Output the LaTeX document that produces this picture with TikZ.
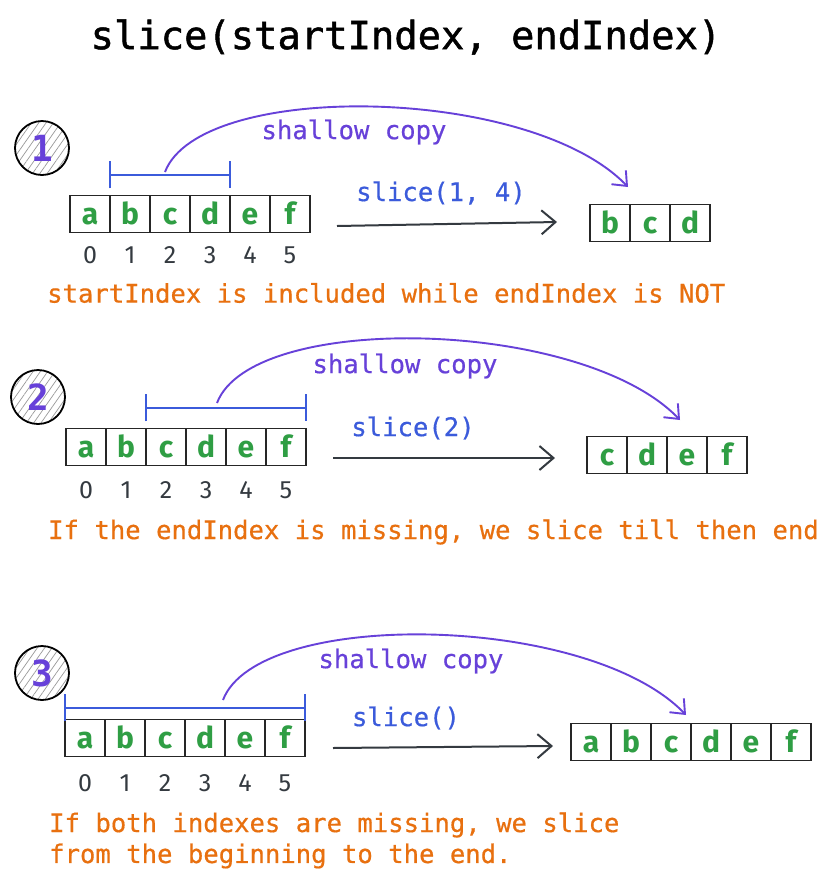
\documentclass[tikz,border=0pt]{standalone}
\usepackage{fontspec}
\setmainfont{Fira Sans}
\setmonofont{DejaVu Sans Mono}
\newfontfamily\monoheavy{DejaVu Sans Mono}[FakeBold=1.2]
\newfontfamily\monosemi{DejaVu Sans Mono}[FakeBold=0.5]
\usetikzlibrary{arrows.meta,patterns.meta}

\definecolor{violetink}{HTML}{6741D9}
\definecolor{blueink}{HTML}{3B5BDB}
\definecolor{greenink}{HTML}{2F9E44}
\definecolor{orangeink}{HTML}{E8700F}
\definecolor{darkink}{HTML}{343A40}

\tikzset{
  cell/.style={draw=black!85, line width=1.1pt, minimum width=40pt, minimum height=37pt,
    inner sep=0pt, text=greenink, font=\bfseries\fontsize{30}{30}\selectfont,
    text height=20pt, text depth=0pt},
  idx/.style={text=darkink, font=\fontsize{25}{25}\selectfont},
  badge/.style={circle, draw=black, line width=1.8pt, minimum size=54pt, inner sep=0pt,
    pattern={Lines[angle=55,distance=6pt,line width=0.7pt]}, pattern color=gray!80,
    text=violetink, font=\ttfamily\bfseries\fontsize{36}{36}\selectfont},
  span/.style={draw=blueink, line width=1.8pt, {Bar[width=27pt]}-{Bar[width=27pt]}},
  copyarc/.style={draw=violetink, line width=1.9pt, -{Straight Barb[length=12pt,width=20pt]}},
  slicearrow/.style={draw=darkink, line width=2pt, -{Straight Barb[length=14pt,width=24pt]}},
  copylabel/.style={text=violetink, font=\monosemi\fontsize{25.6}{25.6}\selectfont},
  slicelabel/.style={text=blueink, font=\monosemi\fontsize{25.6}{25.6}\selectfont},
  note/.style={text=orangeink, anchor=west, inner sep=0pt, font=\monosemi\fontsize{25.6}{25.6}\selectfont},
}

\begin{document}
\begin{tikzpicture}[x=1pt, y=-1pt]

  \useasboundingbox[fill=white] (0,0) rectangle (828,879);

  \node[font=\monoheavy\fontsize{38.8}{38.8}\selectfont] (title) at (406,37) {slice(startIndex, endIndex)};

  % slice(1, 4)
  \node[badge] (one) at (42,148) {1};
  \foreach \ch [count=\i from 0] in {a,b,c,d,e,f} {
    \node[cell] (p1\ch) at ({90+40*\i},214) {\ch};
    \node[idx] (n1\ch) at ({90+40*\i},255) {\i};
  }
  \draw[span] ([yshift=20pt]p1b.north west) -- ([yshift=20pt]p1d.north east);
  \coordinate (from1) at (165,172);
  \coordinate (to1) at (628,187);
  \draw[copyarc] (from1) .. controls (200,80) and (530,85) .. (to1);
  \node[copylabel] (copy1) at (354,132) {shallow copy};
  \coordinate (go1) at (337,226);
  \coordinate (stop1) at (557,222);
  \draw[slicearrow] (go1) -- (stop1);
  \node[slicelabel] (call1) at (441,193) {slice(1, 4)};
  \foreach \ch [count=\i from 0] in {b,c,d}
    \node[cell] (q1\ch) at ({610+40*\i},223) {\ch};
  \node[note] (note1) at (47,293) {startIndex is included while endIndex is NOT};

  % slice(2)
  \node[badge] (two) at (38,397) {2};
  \foreach \ch [count=\i from 0] in {a,b,c,d,e,f} {
    \node[cell] (p2\ch) at ({86+40*\i},447) {\ch};
    \node[idx] (n2\ch) at ({86+40*\i},490) {\i};
  }
  \draw[span] ([yshift=20pt]p2c.north west) -- ([yshift=20pt]p2f.north east);
  \coordinate (from2) at (217,403);
  \coordinate (to2) at (680,420);
  \draw[copyarc] (from2) .. controls (252,311) and (582,318) .. (to2);
  \node[copylabel] (copy2) at (405,366) {shallow copy};
  \coordinate (go2) at (333,458);
  \coordinate (stop2) at (555,458);
  \draw[slicearrow] (go2) -- (stop2);
  \node[slicelabel] (call2) at (413,428) {slice(2)};
  \foreach \ch [count=\i from 0] in {c,d,e,f}
    \node[cell] (q2\ch) at ({607+40*\i},455) {\ch};
  \node[note] (note2) at (48,532) {If the endIndex is missing, we slice till then end};

  % slice()
  \node[badge] (three) at (42,673) {3};
  \foreach \ch [count=\i from 0] in {a,b,c,d,e,f} {
    \node[cell] (p3\ch) at ({85+40*\i},738) {\ch};
    \node[idx] (n3\ch) at ({85+40*\i},783) {\i};
  }
  \draw[span] ([yshift=11pt]p3a.north west) -- ([yshift=11pt]p3f.north east);
  \coordinate (from3) at (223,700);
  \coordinate (to3) at (686,715);
  \draw[copyarc] (from3) .. controls (258,608) and (588,613) .. (to3);
  \node[copylabel] (copy3) at (411,661) {shallow copy};
  \coordinate (go3) at (333,748);
  \coordinate (stop3) at (553,746);
  \draw[slicearrow] (go3) -- (stop3);
  \node[slicelabel] (call3) at (406,718) {slice()};
  \foreach \ch [count=\i from 0] in {a,b,c,d,e,f}
    \node[cell] (q3\ch) at ({591+40*\i},742) {\ch};
  \node[note] (note3) at (49,825) {If both indexes are missing, we slice};
  \node[note] (note3b) at (49,856) {from the beginning to the end.};

\end{tikzpicture}
\end{document}
